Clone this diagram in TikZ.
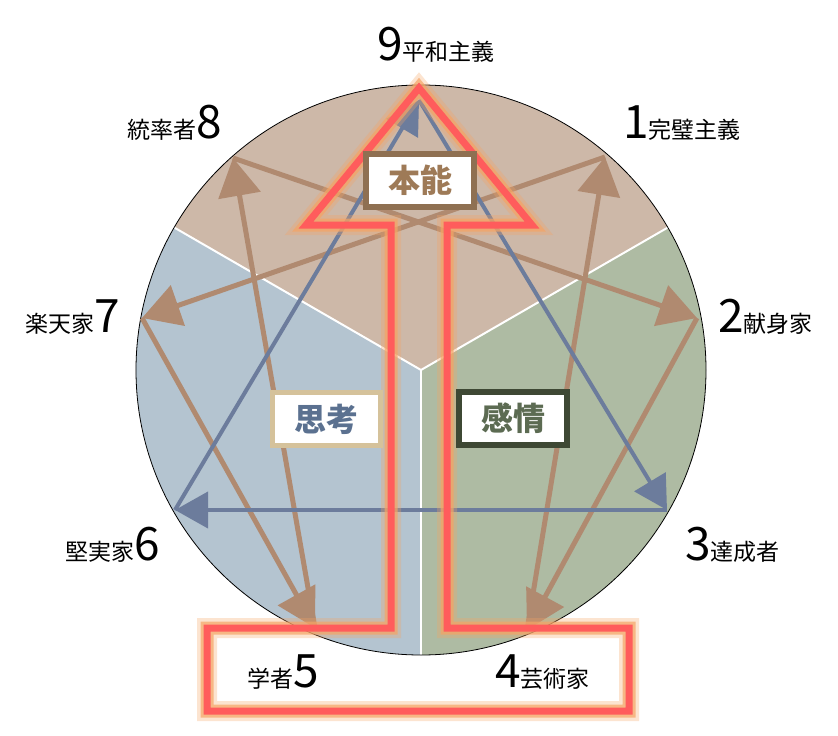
\documentclass[tikz,border=0pt]{standalone}
\usepackage{fontspec}
\setmainfont{Noto Sans CJK JP}
\usetikzlibrary{arrows.meta}
\definecolor{instinct}{HTML}{CDB8A8}
\definecolor{thinking}{HTML}{B4C4D0}
\definecolor{feeling}{HTML}{AEBBA3}
\definecolor{hexa}{HTML}{B08A70}
\definecolor{tria}{HTML}{6C7C9C}
\definecolor{redline}{HTML}{FF5C5C}
\definecolor{glow}{HTML}{F5A464}
\newcommand\bignum[1]{{\fontsize{46}{46}\selectfont#1}}
\begin{document}
\begin{tikzpicture}[x=1pt,y=-1pt,
  hexarrow/.style={hexa,line width=5pt,-{Triangle[length=38pt,width=42pt]}},
  triarrow/.style={tria,line width=4pt,-{Triangle[length=33pt,width=36pt]}},
  centerbox/.style={fill=white,minimum width=108pt,minimum height=53pt,inner sep=0pt,font=\fontsize{32}{32}\selectfont\bfseries},
  lbl/.style={inner sep=0pt,font=\fontsize{23}{23}\selectfont}]
\useasboundingbox (0,0) rectangle (838,736);
\coordinate (o) at (421,370);
% three centers
\fill[instinct] (o) -- ++(-30:285) arc (-30:-150:285) -- cycle;
\fill[thinking] (o) -- ++(-150:285) arc (-150:-270:285) -- cycle;
\fill[feeling] (o) -- ++(90:285) arc (90:-30:285) -- cycle;
\foreach \a in {-30,-150,90}{\draw[white,line width=2pt](o)--++(\a:285);}
\draw[line width=0.8pt](o) circle[radius=285];
% points
\coordinate (p1) at (605,157);
\coordinate (p2) at (697,318);
\coordinate (p3) at (667,510);
\coordinate (p4) at (527,630);
\coordinate (p5) at (315,628);
\coordinate (p6) at (175,510);
\coordinate (p7) at (142,318);
\coordinate (p8) at (233,158);
\coordinate (p9) at (419,100);
\foreach \a/\b in {1/7,7/5,5/8,8/2,2/4,4/1}{\draw[hexarrow](p\a)--(p\b);}
\foreach \a/\b in {9/3,3/6,6/9}{\draw[triarrow](p\a)--(p\b);}
% big arrow
\path[save path=\bigarrow](419,88)--(532,225)--(447,225)--(447,628)--(629,628)--(629,711)--(207,711)--(207,628)--(391,628)--(391,225)--(306,225)--cycle;
\draw[glow,line width=20pt,opacity=0.3,use path=\bigarrow];
\draw[glow,line width=13pt,opacity=0.7,use path=\bigarrow];
\draw[redline,line width=7pt,use path=\bigarrow];
% boxes
\node[centerbox,draw=brown!60!black!80,line width=6pt,text=brown!70!black!80] (hon) at (420,180) {本能};
\node[centerbox,draw={rgb,255:red,213;green,194;blue,155},line width=5pt,text={rgb,255:red,91;green,113;blue,144}] (shi) at (326,419) {思考};
\node[centerbox,draw={rgb,255:red,62;green,72;blue,52},line width=6pt,text={rgb,255:red,92;green,107;blue,82}] (kan) at (513,418) {感情};
% labels
\node[lbl,anchor=base] (l9) at (436,60) {\bignum{9}平和主義};
\node[lbl,anchor=base west] (l1) at (623,138) {\bignum{1}完璧主義};
\node[lbl,anchor=base west] (l2) at (718,332) {\bignum{2}献身家};
\node[lbl,anchor=base west] (l3) at (685,560) {\bignum{3}達成者};
\node[lbl,anchor=base west] (l4) at (495,687) {\bignum{4}芸術家};
\node[lbl,anchor=base east] (l5) at (319,687) {学者\bignum{5}};
\node[lbl,anchor=base east] (l6) at (160,560) {堅実家\bignum{6}};
\node[lbl,anchor=base east] (l7) at (120,332) {楽天家\bignum{7}};
\node[lbl,anchor=base east] (l8) at (222,138) {統率者\bignum{8}};
\end{tikzpicture}
\end{document}
